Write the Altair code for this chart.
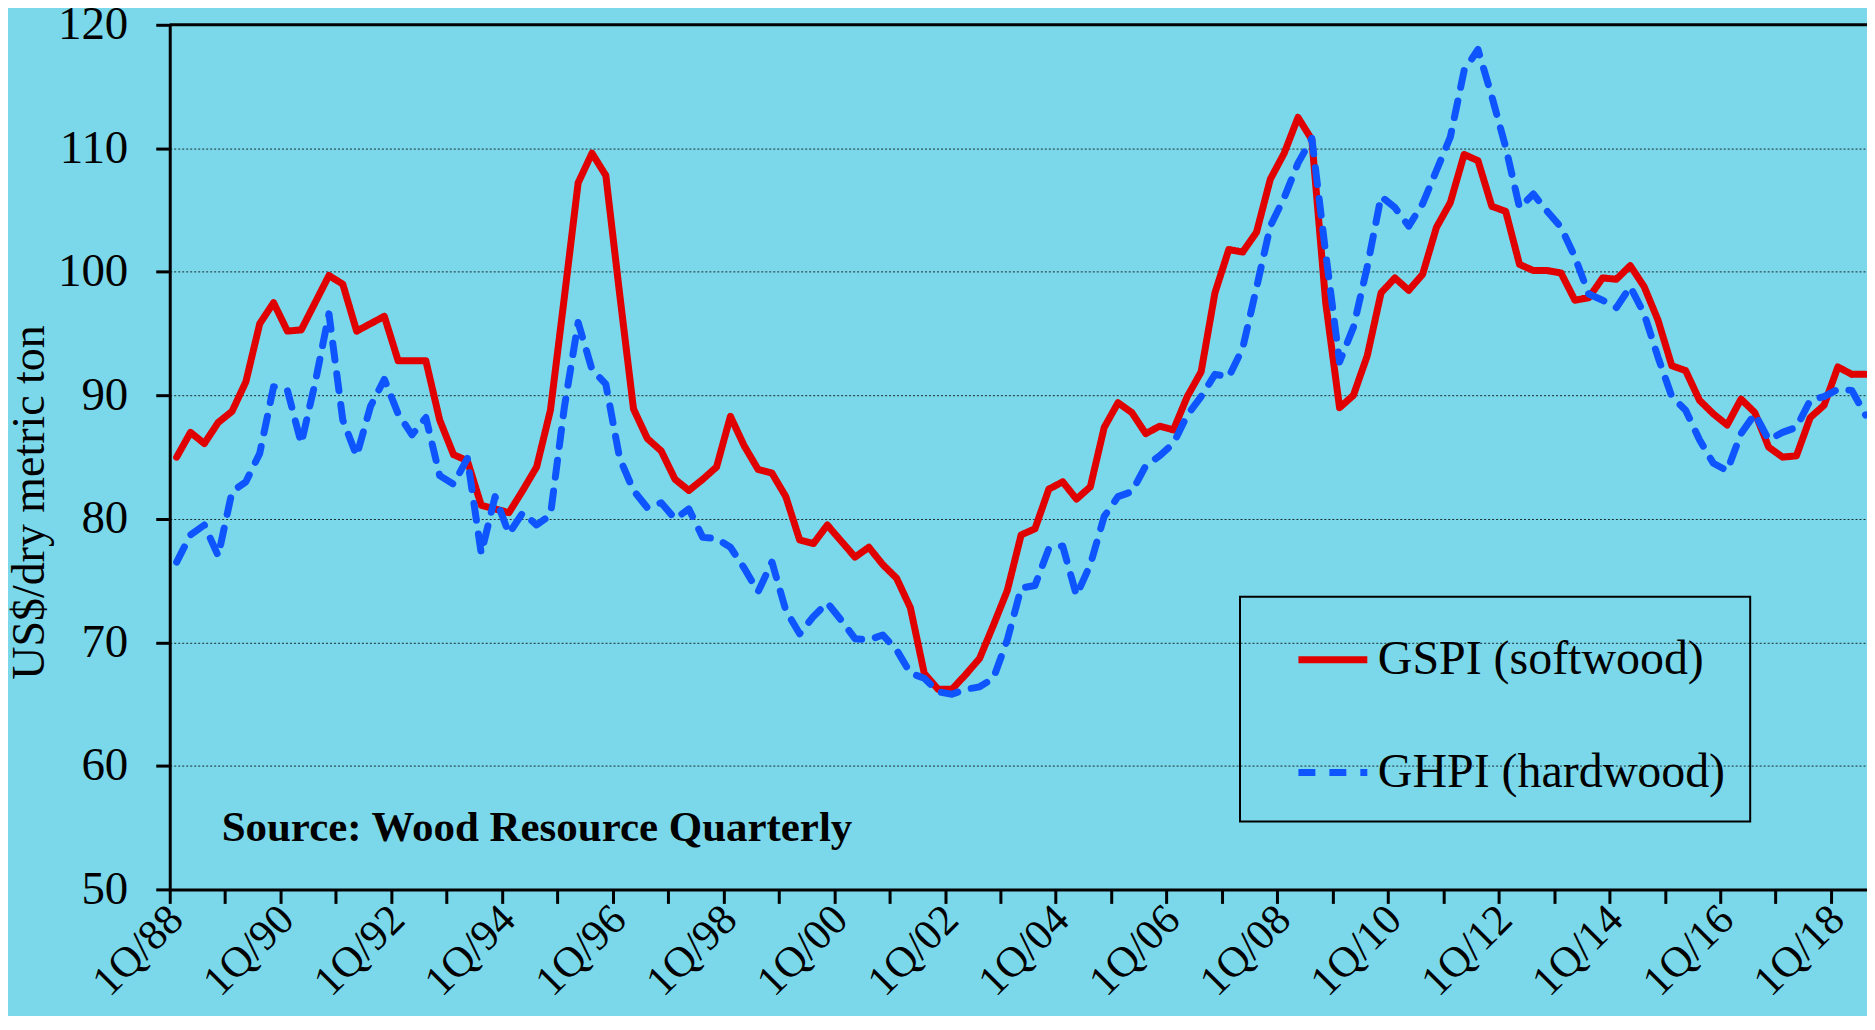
import altair as alt
import pandas as pd

# ---------------- data ----------------
quarters = [f"{q}Q/{y % 100:02d}" for y in range(1988, 2019) for q in range(1, 5)][:123]

tick_labels = ["1Q/88", "1Q/90", "1Q/92", "1Q/94", "1Q/96", "1Q/98", "1Q/00", "1Q/02",
               "1Q/04", "1Q/06", "1Q/08", "1Q/10", "1Q/12", "1Q/14", "1Q/16", "1Q/18"]

gspi = [85.0, 87.0, 86.1, 87.8, 88.7, 91.1, 95.8, 97.5, 95.2, 95.3,
        97.5, 99.7, 99.0, 95.2, 95.8, 96.4, 92.8, 92.8, 92.8, 88.0,
        85.2, 84.7, 81.1, 80.8, 80.5, 82.3, 84.2, 88.8, 97.9, 107.2,
        109.6, 107.8, 98.2, 88.9, 86.5, 85.5, 83.2, 82.3, 83.2, 84.2,
        88.3, 85.9, 84.0, 83.7, 81.8, 78.3, 78.0, 79.5, 78.2, 76.9,
        77.7, 76.3, 75.2, 72.8, 67.5, 66.2, 66.2, 67.4, 68.7, 71.4,
        74.2, 78.7, 79.2, 82.4, 83.0, 81.6, 82.6, 87.4, 89.4, 88.6,
        86.9, 87.5, 87.2, 89.9, 91.9, 98.3, 101.8, 101.6, 103.2, 107.5,
        109.6, 112.5, 110.7, 97.5, 89.0, 90.0, 93.2, 98.3, 99.5, 98.5,
        99.8, 103.6, 105.6, 109.5, 109.0, 105.3, 104.9, 100.6, 100.1, 100.1,
        99.9, 97.7, 97.9, 99.5, 99.4, 100.5, 98.8, 96.1, 92.4, 92.0,
        89.6, 88.5, 87.6, 89.7, 88.6, 85.8, 85.0, 85.1, 88.2, 89.2,
        92.3, 91.7, 91.7]

ghpi = [76.5, 78.7, 79.5, 77.0, 82.2, 83.0, 85.3, 90.7, 90.4, 86.1,
        91.0, 96.6, 88.0, 85.1, 89.1, 91.3, 88.5, 86.8, 88.2, 83.5,
        82.8, 84.9, 77.2, 81.8, 78.8, 80.5, 79.5, 80.3, 89.0, 95.9,
        92.1, 90.9, 84.9, 82.3, 80.9, 81.3, 80.0, 80.8, 78.5, 78.4,
        77.7, 76.0, 74.1, 76.5, 72.6, 70.7, 72.1, 73.2, 71.8, 70.3,
        70.2, 70.6, 69.4, 67.5, 67.1, 66.0, 65.8, 66.2, 66.4, 67.1,
        70.2, 74.4, 74.6, 77.6, 77.8, 73.8, 76.3, 80.2, 81.8, 82.2,
        84.3, 85.1, 86.1, 88.4, 89.9, 91.7, 91.5, 93.8, 98.7, 103.7,
        106.0, 108.8, 110.8, 101.5, 92.7, 95.5, 100.4, 106.1, 105.2, 103.7,
        105.5, 108.2, 110.9, 116.3, 118.0, 114.2, 110.1, 105.2, 106.3, 104.9,
        103.6, 101.2, 98.2, 97.7, 97.1, 98.8, 96.6, 93.1, 89.9, 88.8,
        86.4, 84.5, 83.9, 86.9, 88.5, 86.4, 87.0, 87.4, 89.6, 89.9,
        90.5, 90.4, 88.4]

series_names = ["GSPI (softwood)", "GHPI (hardwood)"]
y_ticks = [50, 60, 70, 80, 90, 100, 110, 120]
y_title = "US$/dry metric ton"
source_note = "Source: Wood Resource Quarterly"

# ---------------- build table ----------------
rows = []
for name, vals in zip(series_names, [gspi, ghpi]):
    for i, (q, v) in enumerate(zip(quarters, vals)):
        rows.append({"quarter": q, "pos": i + 0.5, "value": v, "series": name})
df = pd.DataFrame(rows)

year_ticks = [i for i, q in enumerate(quarters) if q.startswith("1Q")]
label_expr = ""
for lbl in tick_labels:
    label_expr += f"datum.value == {quarters.index(lbl)} ? '{lbl}' : "
label_expr += "''"

FONT = "Liberation Serif"
BG = "#7BD8EA"
RED = "#E00000"
BLUE = "#0F55FF"

legend = alt.Legend(
    title=None, orient="none", legendX=1072, legendY=573,
    symbolType="stroke", symbolSize=4761, symbolStrokeWidth=7,
    labelFont=FONT, labelFontSize=48, labelColor="black", labelLimit=600,
    padding=25, rowPadding=51, symbolOffset=30, labelOffset=7,
    strokeColor="black",
)

x_enc = alt.X(
    "pos:Q",
    scale=alt.Scale(domain=[0, 122.6], nice=False, zero=False),
    axis=alt.Axis(
        values=year_ticks, labelExpr=label_expr, grid=False, title=None,
        tickSize=14, tickWidth=3, tickColor="black",
        domainColor="black", domainWidth=3,
        labelAngle=315, labelAlign="right", labelBaseline="middle",
        labelOffset=6, labelPadding=9, labelFont=FONT, labelFontSize=43,
        labelColor="black", labelOverlap=False, labelFlush=False,
    ),
)

y_enc = alt.Y(
    "value:Q",
    scale=alt.Scale(domain=[50, 120], nice=False, zero=False),
    axis=alt.Axis(
        values=y_ticks, grid=True, gridColor="black", gridDash=[2, 2],
        gridWidth=1, gridOpacity=0.8,
        tickSize=14, tickWidth=3, tickColor="black",
        domainColor="black", domainWidth=3,
        labelFont=FONT, labelFontSize=47, labelColor="black", labelPadding=28,
        title=y_title, titleFont=FONT, titleFontSize=46, titleFontWeight="normal",
        titleColor="black", titleAngle=270, titleX=-140, titleY=478,
        titleAlign="center", titleBaseline="middle",
    ),
)

lines = alt.Chart(df).mark_line(strokeWidth=7, strokeCap="round", strokeJoin="round").encode(
    x=x_enc,
    y=y_enc,
    color=alt.Color("series:N", scale=alt.Scale(domain=series_names, range=[RED, BLUE]), legend=legend),
    strokeDash=alt.StrokeDash("series:N", scale=alt.Scale(domain=series_names, range=[[1, 0], [17, 14]]), legend=legend),
    order=alt.Order("pos:Q"),
)

top_rule = alt.Chart(pd.DataFrame({"top": [max(y_ticks)]})).mark_rule(
    color="black", strokeWidth=3
).encode(y=alt.datum(max(y_ticks)))

note = alt.Chart(pd.DataFrame({"t": [source_note]})).mark_text(
    align="left", baseline="middle", font=FONT, fontSize=43, fontWeight="bold", color="black"
).encode(text="t:N", x=alt.value(52), y=alt.value(805))

chart = alt.layer(lines, top_rule, note).properties(
    width=1700, height=866,
    padding={"left": 162, "top": 16, "right": 0, "bottom": 126},
    autosize=alt.AutoSizeParams(type="none"),
    background=BG,
).configure_view(stroke=None).configure_legend(strokeWidth=2)

chart.save("out.html", embed_options={"renderer": "svg", "actions": False})
